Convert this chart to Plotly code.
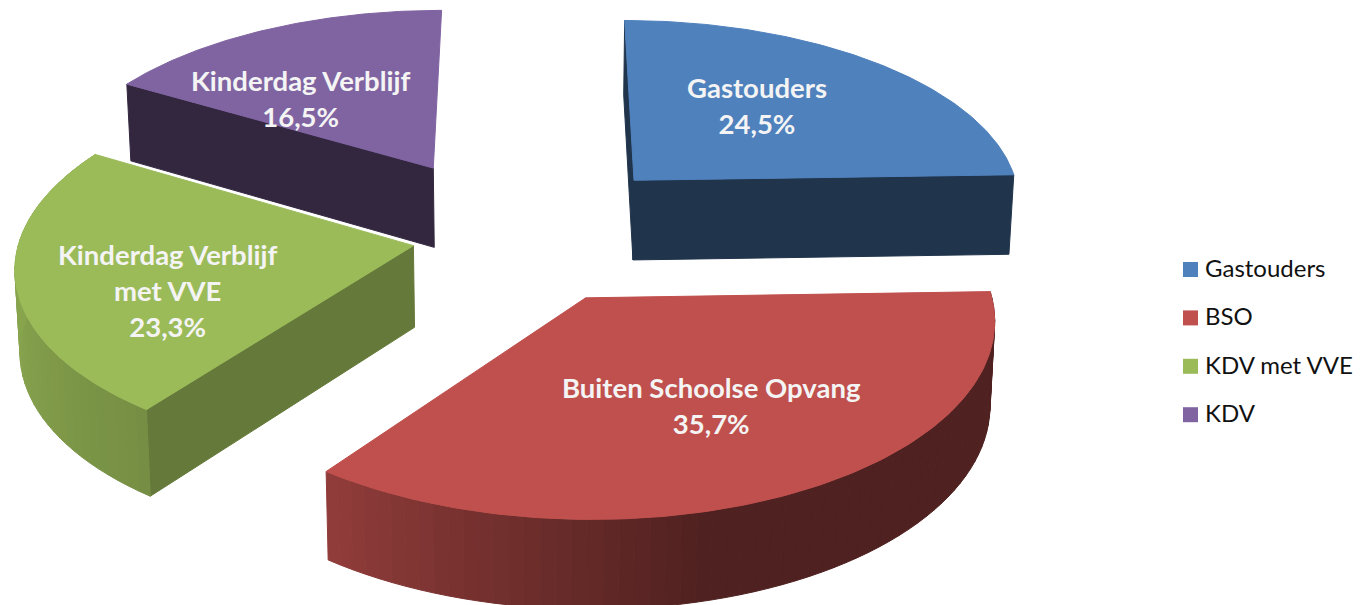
import numpy as np
import plotly.graph_objects as go

# ---- data ----
legend_names = ["Gastouders", "BSO", "KDV met VVE", "KDV"]
slice_titles = ["Gastouders", "Buiten Schoolse Opvang", "Kinderdag Verblijf<br>met VVE", "Kinderdag Verblijf"]
percentages = [24.5, 35.7, 23.3, 16.5]
percent_labels = ["24,5%", "35,7%", "23,3%", "16,5%"]

# ---- style ----
colors = [(0x4f, 0x81, 0xbd), (0xc0, 0x50, 0x4d), (0x9b, 0xbb, 0x59), (0x80, 0x64, 0xa2)]
face_shade = [0.40, 0.40, 0.65, 0.39]
explode_x = [0.278, 0.142, -0.290, -0.250]
explode_y = [0.33, -0.30, -0.03, 0.40]
label_xy = [(757, 105), (711, 405), (168, 290), (301, 98)]
CX, CY, K, KT, P, DEPTH, SHRINK = 528, 240, 394, 187, 0.1, 81.5, 0.99


def project(X, Y, bottom=False):
    s = 1 / (1 + P * Y)
    sx = K * X * s
    sy = CY - KT * Y * s
    if bottom:
        return CX + sx * SHRINK, sy + DEPTH * s ** 0.7
    return CX + sx, sy


def shade(rgb, f):
    return "rgb(%d,%d,%d)" % tuple(round(c * f) for c in rgb)


def poly(xs, ys, color):
    return go.Scatter(x=list(xs) + [xs[0]], y=list(ys) + [ys[0]], mode="lines", fill="toself",
                      fillcolor=color, line=dict(color=color, width=1),
                      hoverinfo="skip", showlegend=False)


fig = go.Figure()
cum = np.concatenate([[0], np.cumsum(percentages)]) / np.sum(percentages) * 2 * np.pi
for i in [3, 0, 2, 1]:
    a0, a1 = cum[i], cum[i + 1]
    ax, ay = explode_x[i], explode_y[i]
    rgb = colors[i]
    face = shade(rgb, face_shade[i])

    def rim(a):
        return ax + np.sin(a), ay + np.cos(a)

    def side_quad(p, q, color):
        x1, y1 = project(*p)
        x2, y2 = project(*q)
        x3, y3 = project(*q, bottom=True)
        x4, y4 = project(*p, bottom=True)
        fig.add_trace(poly([x1, x2, x3, x4], [y1, y2, y3, y4], color))

    # radial faces that look towards the viewer
    if i == 0:
        side_quad((ax, ay), rim(a0), face)
        side_quad((ax, ay), rim(a1), face)
    elif i == 3:
        side_quad((ax, ay), rim(a0), face)
    elif i == 2:
        side_quad((ax, ay), rim(a0), face)

    # outer curved wall (front half only, so only two slices show it)
    if i in (1, 2):
        n = max(int(np.degrees(a1 - a0) / 2), 2)
        edges = np.linspace(a0, a1, n + 1)
        for e0, e1 in zip(edges[:-1], edges[1:]):
            deg = np.degrees((e0 + e1) / 2)
            f = np.interp(deg, [88, 165, 217, 262, 300], [0.41, 0.41, 0.76, 0.88, 0.88])
            side_quad(rim(e0), rim(e1), shade(rgb, f))

    # top surface
    arc = np.linspace(a0, a1, 120)
    xs = [ax] + list(ax + np.sin(arc))
    ys = [ay] + list(ay + np.cos(arc))
    px, py = project(np.array(xs), np.array(ys))
    fig.add_trace(poly(list(px), list(py), shade(rgb, 1)))

for i, (title, pct) in enumerate(zip(slice_titles, percent_labels)):
    fig.add_annotation(x=label_xy[i][0], y=label_xy[i][1], text=f"{title}<br>{pct}", showarrow=False,
                       font=dict(family="Lato", size=27.5, color="#f4f4f4", weight="bold"),
                       align="center", xanchor="center", yanchor="middle")

# legend
legend_y = [269.5 + 48.4 * i for i in range(len(legend_names))]
fig.add_trace(go.Scatter(
    x=[1190.5] * len(legend_names), y=legend_y, mode="markers",
    marker=dict(symbol="square", size=15, color=[shade(c, 1) for c in colors], line=dict(width=0)),
    hoverinfo="skip", showlegend=False, cliponaxis=False))
fig.add_trace(go.Scatter(
    x=[1205] * len(legend_names), y=[v + 1.5 for v in legend_y], mode="text",
    text=legend_names, textposition="middle right",
    textfont=dict(family="Lato", size=24, color="#111111"),
    hoverinfo="skip", showlegend=False, cliponaxis=False))

fig.update_layout(
    width=1366, height=605, margin=dict(l=0, r=0, t=0, b=0),
    paper_bgcolor="white", plot_bgcolor="white", showlegend=False,
    xaxis=dict(range=[0, 1366], visible=False, fixedrange=True),
    yaxis=dict(range=[605, 0], visible=False, fixedrange=True),
)
fig.write_html("out.html", config=dict(displayModeBar=False),
               post_script="document.body.style.margin='0';document.body.style.overflow='hidden';")
